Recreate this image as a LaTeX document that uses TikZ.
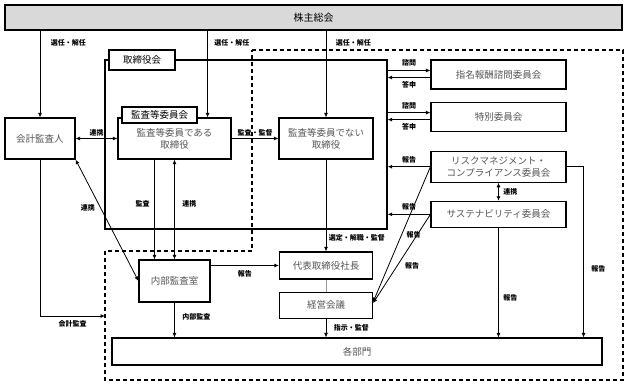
\documentclass[tikz,border=0pt]{standalone}
\usepackage{fontspec}
\setmainfont{Noto Sans CJK JP}
\usetikzlibrary{arrows.meta, positioning, backgrounds}
\definecolor{cgray}{RGB}{85, 85, 85}
\definecolor{cfill}{RGB}{217, 217, 217}
\tikzset{
  box/.style={draw=black, line width=1.1pt, align=center, inner sep=2pt,
              fill=white, text=cgray, font=\fontsize{9.5}{12}\selectfont},
  tag/.style={box, text=black, inner sep=0pt},
  arr/.style={-{Latex[length=4.5pt, width=4pt]}, line width=0.8pt},
  darr/.style={{Latex[length=4.5pt, width=4pt]}-{Latex[length=4.5pt, width=4pt]}, line width=0.8pt},
  lab/.style={font=\bfseries\fontsize{7}{8}\selectfont, inner sep=1.5pt},
  grp/.style={draw, line width=1.2pt, dash pattern=on 4pt off 3pt},
}

\begin{document}
\begin{tikzpicture}[x=1pt, y=-1pt]
\useasboundingbox (0,0) rectangle (627,384);

% ---------- 株主総会 ----------
\node[box, fill=cfill, text=black, minimum width=617pt, minimum height=25pt,
      font=\fontsize{10}{12}\selectfont] (gm) at (313.5,17.5) {株主総会};

% ---------- 取締役会 ----------
\node[draw, line width=1.3pt, minimum width=282pt, minimum height=169pt] (board) at (246,144.5) {};
\node[tag, minimum width=66pt, minimum height=20pt] (boardlab) at (142,60) {取締役会};

\node[box, minimum width=70pt, minimum height=41pt] (audit) at (40,138.5) {会計監査人};
\node[box, minimum width=113pt, minimum height=41pt] (acm) at (174.5,138.5) {監査等委員である\\取締役};
\node[tag, minimum width=75pt, minimum height=16pt] (acmlab) at (159.5,115) {監査等委員会};
\node[box, minimum width=94pt, minimum height=41pt] (dir) at (326,138.5) {監査等委員でない\\取締役};

% ---------- 執行側 ----------
\node[box, minimum width=71pt, minimum height=42pt] (iad) at (174.5,281) {内部監査室};
\node[box, minimum width=93pt, minimum height=27pt] (ceo) at (326,265.5) {代表取締役社長};
\node[box, minimum width=93pt, minimum height=26pt, below=12pt of ceo] (mgmt) {経営会議};
\node[box, minimum width=490pt, minimum height=27pt] (dept) at (357,351.5) {各部門};

% ---------- 委員会 ----------
\node[box, minimum width=135pt, minimum height=29pt] (nom) at (498.5,74.5) {指名報酬諮問委員会};
\node[box, minimum width=135pt, minimum height=29pt, below=12pt of nom] (spc) {特別委員会};
\node[box, minimum width=135pt, minimum height=31pt, below=19pt of spc] (risk) {リスクマネジメント・\\コンプライアンス委員会};
\node[box, minimum width=135pt, minimum height=26pt, below=18pt of risk] (sus) {サステナビリティ委員会};

% ---------- 選任・監査 ----------
\coordinate (acmtop) at ([xshift=-24pt]acm.north east);
\draw[arr] (gm.south -| audit.north) -- (audit.north) node[lab, pos=.14, right=9pt] {選任・解任};
\draw[arr] (gm.south -| acmtop) -- (acmtop) node[lab, pos=.14, right=5pt] {選任・解任};
\draw[arr] (gm.south -| dir.north) -- (dir.north) node[lab, pos=.14, right=8pt] {選任・解任};

\draw[darr] (audit.east) -- (acm.west) node[lab, midway, above] {連携};
\draw[arr] (acm.east) -- (dir.west) node[lab, midway, above] {監査・監督};
\draw[darr] (audit.south east) -- (iad.west) node[lab, pos=.4, left=4pt] {連携};
\draw[arr] ([xshift=-20pt]acm.south) -- ([xshift=-20pt]iad.north) node[lab, pos=.44, left=3pt] {監査};
\draw[darr] (acm.south) -- (iad.north) node[lab, pos=.44, right=6pt] {連携};

\coordinate (exec) at (105,316);
\draw[arr] (audit.south) |- (exec) node[lab, pos=.75, below=3pt] {会計監査};

% ---------- 執行 ----------
\draw[arr] (iad.east |- ceo.west) -- (ceo.west) node[lab, midway, below=3pt] {報告};
\draw[arr] (iad.south) -- (iad.south |- dept.north) node[lab, pos=.4, right=6pt] {内部監査};
\draw[arr] (dir.south) -- (ceo.north) node[lab, pos=.85, right=1pt] {選定・解職・監督};
\draw[cgray!60, line width=0.6pt] (ceo.south) -- (mgmt.north);
\draw[arr] (mgmt.south) -- (mgmt.south |- dept.north) node[lab, midway, right=6pt] {指示・監督};

% ---------- 委員会との連絡 ----------
\foreach \c in {nom,spc}{
  \coordinate (q) at ([yshift=4pt]\c.west);
  \coordinate (a) at ([yshift=-3pt]\c.west);
  \draw[arr] (q -| board.east) -- (q) node[lab, midway, above=2pt] {諮問};
  \draw[arr] (a) -- (a -| board.east) node[lab, midway, below=2pt] {答申};
}
\draw[arr] (risk.west) -- (risk.west -| board.east) node[lab, midway, above=2pt] {報告};
\draw[arr] (sus.west) -- (sus.west -| board.east) node[lab, midway, above=2pt] {報告};
\draw[arr] (risk.west) -- ([yshift=3pt]mgmt.east) node[lab, pos=.5, right=3pt] {報告};
\draw[arr] (sus.west) -- ([yshift=2pt]mgmt.east) node[lab, pos=.58, right=6pt] {報告};
\draw[darr] (risk.south) -- (sus.north) node[lab, midway, right=3pt] {連携};

\coordinate (rr) at ([xshift=17pt]risk.east);
\draw[arr] (risk.east) -- (rr) -- (rr |- dept.north) node[lab, pos=.6, right=6pt] {報告};
\draw[arr] (sus.south) -- (sus.south |- dept.north) node[lab, pos=.64, right=3pt] {報告};

\begin{scope}[on background layer]
  \draw[grp] (252,50) -- (623,50) -- (623,380) -- (105,380) -- (105,251) -- (252,251) -- cycle;
\end{scope}

\end{tikzpicture}
\end{document}
